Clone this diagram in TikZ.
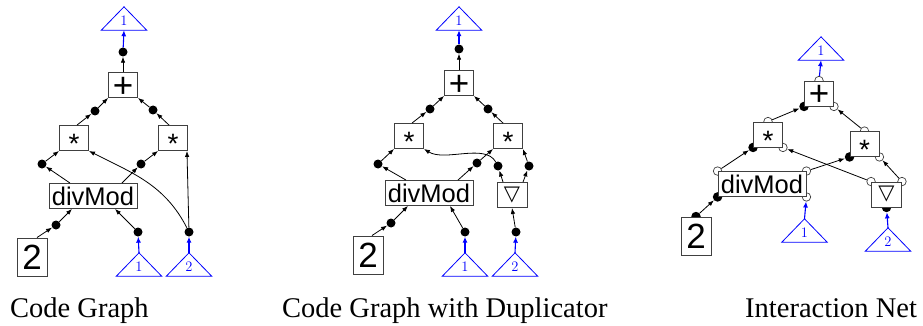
\documentclass[tikz,border=0pt]{standalone}
\usepackage{fontspec}
\usetikzlibrary{arrows.meta}
\newfontfamily\boxfont{Liberation Sans}
\newfontfamily\capfont{Liberation Serif}
\newfontfamily\symfont{DejaVu Sans}
\definecolor{boxgray}{gray}{0.25}
\definecolor{netblue}{rgb}{0,0,1}
\pgfdeclarelayer{ports}
\pgfsetlayers{ports,main}
% centre a glyph on the node centre, given the height of its visual middle
\newcommand\vc[2]{\smash{\raisebox{-#1}{#2}}}
% interface triangle: #1 name, #2 x of apex, #3 y of apex, #4 number
\newcommand\mktri[4]{%
  \node[trizone] (#1) at (#2,#3+11.5) {};
  \draw[triline] (#1.south west) -- (#1.north) -- (#1.south east) -- cycle;
  \node[trinum] at ([yshift=4.5pt]#1.south) {#4};
}
\tikzset{
  opbox/.style={draw=boxgray, line width=0.9pt, fill=white, inner sep=0pt,
    minimum width=29pt, minimum height=25pt},
  plusbox/.style={opbox, font=\boxfont\fontsize{35}{35}\selectfont},
  starbox/.style={opbox, font=\boxfont\fontsize{28}{28}\selectfont},
  dupbox/.style={opbox, minimum width=30pt, font=\symfont\fontsize{21}{21}\selectfont},
  dmbox/.style={opbox, minimum width=88pt, font=\boxfont\fontsize{25.5}{25.5}\selectfont},
  twobox/.style={opbox, minimum width=30pt, minimum height=38pt,
    font=\boxfont\fontsize{35}{35}\selectfont},
  dot/.style={circle, fill=black, inner sep=0pt, minimum size=9pt},
  wport/.style={circle, draw=boxgray, line width=0.7pt, fill=white, inner sep=0pt, minimum size=8.5pt},
  bport/.style={circle, fill=black, inner sep=0pt, minimum size=9.5pt},
  trizone/.style={rectangle, inner sep=0pt, minimum width=45pt, minimum height=23pt},
  triline/.style={draw=netblue, line width=0.8pt, line join=miter},
  trinum/.style={anchor=base, inner sep=0pt, text=netblue, font=\fontsize{14.5}{14.5}\selectfont},
  wire/.style={draw=black, line width=0.8pt, -{Latex[length=6pt,width=4.5pt]}},
  bwire/.style={wire, draw=netblue, line width=1.1pt, -{Latex[length=6pt,width=5pt,color=netblue]}},
  captext/.style={anchor=base west, inner sep=0pt, font=\capfont\fontsize{28.5}{28.5}\selectfont},
}
\begin{document}
\begin{tikzpicture}[x=1pt, y=-1pt]
\useasboundingbox (0,0) rectangle (923,326);

% ---------------- Code Graph ----------------
\mktri{aT1}{124}{7}{1}
\node[dot] (ad1) at (123,52) {};
\node[plusbox] (aP) at (123,85) {\vc{0.35em}{+}};
\node[dot] (adL) at (95,111) {};
\node[dot] (adR) at (153,110) {};
\node[starbox] (aML) at (74,138) {\vc{0.57em}{*}};
\node[starbox] (aMR) at (173,138) {\vc{0.57em}{*}};
\node[dot] (adA) at (42,164) {};
\node[dot] (adB) at (141,164) {};
\node[dmbox] (aDM) at (93,196) {divMod};
\node[dot] (adC) at (56,225) {};
\node[dot] (adD) at (138,232) {};
\node[dot] (adE) at (189,232) {};
\node[twobox] (aTWO) at (32,257) {\vc{0.354em}{2}};
\mktri{aB1}{139}{253}{1}
\mktri{aB2}{189}{253}{2}

\draw[bwire] (ad1) -- (aT1.south);
\draw[wire] (aP.north) -- (ad1);
\draw[wire] ([xshift=3pt]aML.north) -- (adL);
\draw[wire] (adL) -- (aP.south west);
\draw[wire] ([xshift=-4pt]aMR.north) -- (adR);
\draw[wire] (adR) -- (aP.south east);
\draw[wire] ([xshift=-23pt]aDM.north) -- (adA);
\draw[wire] (adA) -- (aML.south west);
\draw[wire] ([xshift=29pt]aDM.north) -- (adB);
\draw[wire] (adB) -- (aMR.south west);
\draw[wire] (adE) to[out=117, in=-27] (aML.south east);
\draw[wire] (adE) -- ([xshift=-1pt]aMR.south east);
\draw[wire] ([xshift=5pt]aTWO.north) -- (adC);
\draw[wire] (adC) -- ([xshift=-21pt]aDM.south);
\draw[wire] (adD) -- ([xshift=22pt]aDM.south);
\draw[bwire] (aB1.north) -- (adD);
\draw[bwire] (aB2.north) -- (adE);

% ---------------- Code Graph with Duplicator ----------------
\mktri{bT1}{459}{7}{1}
\node[dot] (bd1) at (459,49) {};
\node[plusbox] (bP) at (459,83) {\vc{0.35em}{+}};
\node[dot] (bdL) at (430,109) {};
\node[dot] (bdR) at (488,109) {};
\node[starbox] (bML) at (409,136) {\vc{0.57em}{*}};
\node[starbox] (bMR) at (508,136) {\vc{0.57em}{*}};
\node[dot] (bdA) at (378,164) {};
\node[dot] (bdB) at (477,163) {};
\node[dot] (bdF) at (498,166) {};
\node[dot] (bdG) at (529,166) {};
\node[dmbox] (bDM) at (429,193) {divMod};
\node[dupbox] (bDUP) at (512,195) {▽};
\node[dot] (bdC) at (391,223) {};
\node[dot] (bdD) at (465,232) {};
\node[dot] (bdE) at (516,232) {};
\node[twobox] (bTWO) at (368,255) {\vc{0.354em}{2}};
\mktri{bB1}{465}{253}{1}
\mktri{bB2}{515}{253}{2}

\draw[bwire] (bd1) -- (bT1.south);
\draw[wire] (bP.north) -- (bd1);
\draw[wire] ([xshift=3pt]bML.north) -- (bdL);
\draw[wire] (bdL) -- (bP.south west);
\draw[wire] ([xshift=-5pt]bMR.north) -- (bdR);
\draw[wire] (bdR) -- (bP.south east);
\draw[wire] ([xshift=-23pt]bDM.north) -- (bdA);
\draw[wire] (bdA) -- (bML.south west);
\draw[wire] ([xshift=29pt]bDM.north) -- (bdB);
\draw[wire] (bdB) -- (bMR.south west);
\draw[wire] ([xshift=-9pt]bDUP.north) -- (bdF);
\draw[wire] (bdF) .. controls (485,143) and (445,162) .. (bML.south east);
\draw[wire] ([xshift=11pt]bDUP.north) -- (bdG);
\draw[wire] (bdG) -- (bMR.south east);
\draw[wire] (bdE) -- (bDUP.south);
\draw[wire] ([xshift=4pt]bTWO.north) -- (bdC);
\draw[wire] (bdC) -- ([xshift=-21pt]bDM.south);
\draw[wire] (bdD) -- ([xshift=21pt]bDM.south);
\draw[bwire] (bB1.north) -- (bdD);
\draw[bwire] (bB2.north) -- (bdE);

% ---------------- Interaction Net ----------------
\mktri{cT1}{821}{37}{1}
\node[plusbox] (cP) at (819,93.5) {\vc{0.35em}{+}};
\node[starbox] (cML) at (768,134.5) {\vc{0.57em}{*}};
\node[starbox] (cMR) at (864.5,144) {\vc{0.57em}{*}};
\node[dmbox] (cDM) at (762,184) {divMod};
\node[dupbox] (cDUP) at (886.5,194.5) {▽};
\node[twobox] (cTWO) at (696,236) {\vc{0.354em}{2}};
\mktri{cB1}{804.5}{219}{1}
\mktri{cB2}{888}{228}{2}

\begin{pgfonlayer}{ports}
  \node[wport] (cPt)  at (cP.north) {};
  \node[bport] (cPsw) at (cP.south west) {};
  \node[wport] (cPse) at (cP.south east) {};
  \node[wport] (cLt)  at (cML.north) {};
  \node[bport] (cLsw) at (cML.south west) {};
  \node[wport] (cLse) at (cML.south east) {};
  \node[wport] (cRt)  at (cMR.north) {};
  \node[bport] (cRsw) at (cMR.south west) {};
  \node[wport] (cRse) at (cMR.south east) {};
  \node[wport] (cDnw) at (cDM.north west) {};
  \node[wport] (cDne) at (cDM.north east) {};
  \node[bport] (cDsw) at (cDM.south west) {};
  \node[wport] (cDse) at (cDM.south east) {};
  \node[wport] (cUnw) at (cDUP.north west) {};
  \node[wport] (cUne) at (cDUP.north east) {};
  \node[bport] (cUs)  at (cDUP.south) {};
  \node[bport] (cTt)  at (cTWO.north) {};
\end{pgfonlayer}

\draw[wire] (cTt) -- (cDsw);
\draw[wire] (cDnw) -- (cLsw);
\draw[wire] (cDne) -- (cRsw);
\draw[wire] (cLt) -- (cPsw);
\draw[wire] (cRt) -- (cPse);
\draw[wire] (cUnw) -- (cLse);
\draw[wire] (cUne) -- (cRse);
\draw[bwire] (cPt) -- (cT1.south);
\draw[bwire] (cB1.north) -- (cDse);
\draw[bwire] (cB2.north) -- (cUs);

% ---------------- captions ----------------
\node[captext] (capA) at (10,317) {Code Graph};
\node[captext] (capB) at (282,317) {Code Graph with Duplicator};
\node[captext] (capC) at (745,317) {Interaction Net};
\end{tikzpicture}
\end{document}
